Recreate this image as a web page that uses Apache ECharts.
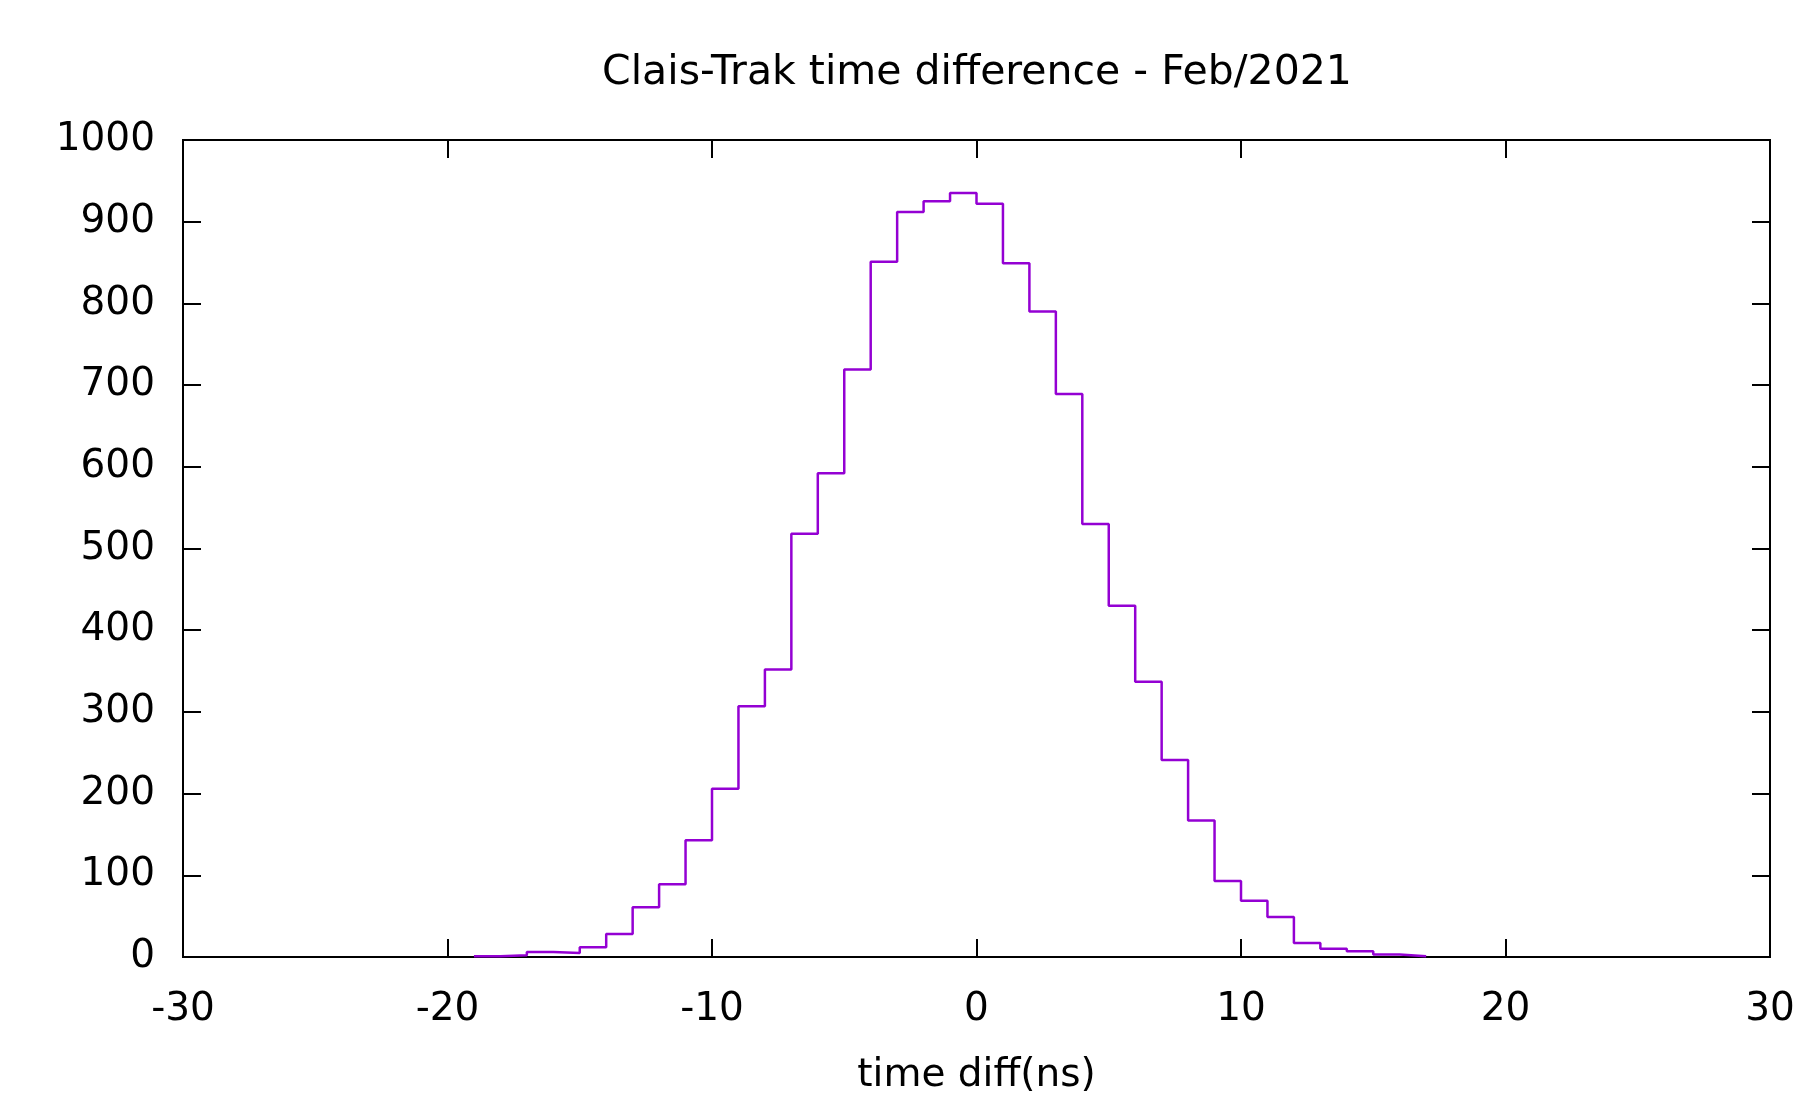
<!DOCTYPE html>
<html>
<head>
<meta charset="utf-8">
<script src="https://cdn.jsdelivr.net/npm/echarts@6/dist/echarts.min.js"></script>
<style>
html, body { margin: 0; padding: 0; background: #fff; }
#main { width: 1817px; height: 1100px; }
</style>
</head>
<body>
<div id="main"></div>
<script>
// left edge of each 1 ns bin
var binLeft = [-19, -18, -17, -16, -15, -14, -13, -12, -11, -10,
    -9, -8, -7, -6, -5, -4, -3, -2, -1, 0,
    1, 2, 3, 4, 5, 6, 7, 8, 9, 10,
    11, 12, 13, 14, 15, 16];
var binEnd = 17;
var counts = [1, 2, 6, 5, 12, 28, 61, 89, 143, 206,
    307, 352, 518, 592, 719, 851, 912, 925, 935, 922,
    849, 790, 689, 530, 430, 337, 241, 167, 93, 69,
    49, 17, 10, 7, 3, 1];
var xTicks = [-30, -20, -10, 0, 10, 20, 30];
var yTicks = [0, 100, 200, 300, 400, 500, 600, 700, 800, 900, 1000];

var myChart = echarts.init(document.getElementById('main'));

var stepData = binLeft.map(function(x, i) {
    return [x, counts[i]];
});
stepData.push([binEnd, counts[counts.length - 1]]);

var fontFam = 'DejaVu Sans';
var lineStyle = { color: '#000', width: 2 };
var tickStyle = { show: true, inside: true, length: 18, lineStyle: { color: '#000', width: 2 } };

var option = {
    animation: false,
    backgroundColor: '#fff',
    textStyle: { fontFamily: fontFam },
    title: {
        text: 'Clais-Trak time difference - Feb/2021',
        left: 972,
        textAlign: 'center',
        top: 48,
        textStyle: { fontFamily: fontFam, fontSize: 41, fontWeight: 'normal', color: '#000' }
    },
    grid: {
        left: 183,
        right: 47,
        top: 140,
        bottom: 140,
        show: true,
        borderColor: '#000',
        borderWidth: 2,
        backgroundColor: 'transparent'
    },
    xAxis: [{
        type: 'value',
        min: xTicks[0],
        max: xTicks[xTicks.length - 1],
        interval: 10,
        position: 'bottom',
        name: 'time diff(ns)',
        nameLocation: 'middle',
        nameGap: 99,
        nameTextStyle: { fontFamily: fontFam, fontSize: 39, color: '#000' },
        axisLine: { show: true, onZero: false, lineStyle: lineStyle },
        axisTick: tickStyle,
        axisLabel: { margin: 33, fontSize: 39, color: '#000', fontFamily: fontFam },
        splitLine: { show: false }
    }, {
        type: 'value',
        min: xTicks[0],
        max: xTicks[xTicks.length - 1],
        interval: 10,
        position: 'top',
        axisLine: { show: true, onZero: false, lineStyle: lineStyle },
        axisTick: tickStyle,
        axisLabel: { show: false },
        splitLine: { show: false }
    }],
    yAxis: [{
        type: 'value',
        min: yTicks[0],
        max: yTicks[yTicks.length - 1],
        interval: 100,
        position: 'left',
        axisLine: { show: true, onZero: false, lineStyle: lineStyle },
        axisTick: tickStyle,
        axisLabel: {
            margin: 28,
            fontSize: 39,
            color: '#000',
            fontFamily: fontFam,
            formatter: function(v) { return String(v); }
        },
        splitLine: { show: false }
    }, {
        type: 'value',
        min: yTicks[0],
        max: yTicks[yTicks.length - 1],
        interval: 100,
        position: 'right',
        axisLine: { show: true, onZero: false, lineStyle: lineStyle },
        axisTick: tickStyle,
        axisLabel: { show: false },
        splitLine: { show: false }
    }],
    series: [{
        name: 'time diff',
        type: 'line',
        step: 'end',
        xAxisIndex: 0,
        yAxisIndex: 0,
        showSymbol: false,
        symbol: 'none',
        lineStyle: { color: '#9400d3', width: 2.5 },
        data: stepData
    }]
};

myChart.setOption(option);

window.onresize = function() {
    myChart.resize();
};
</script>
</body>
</html>
